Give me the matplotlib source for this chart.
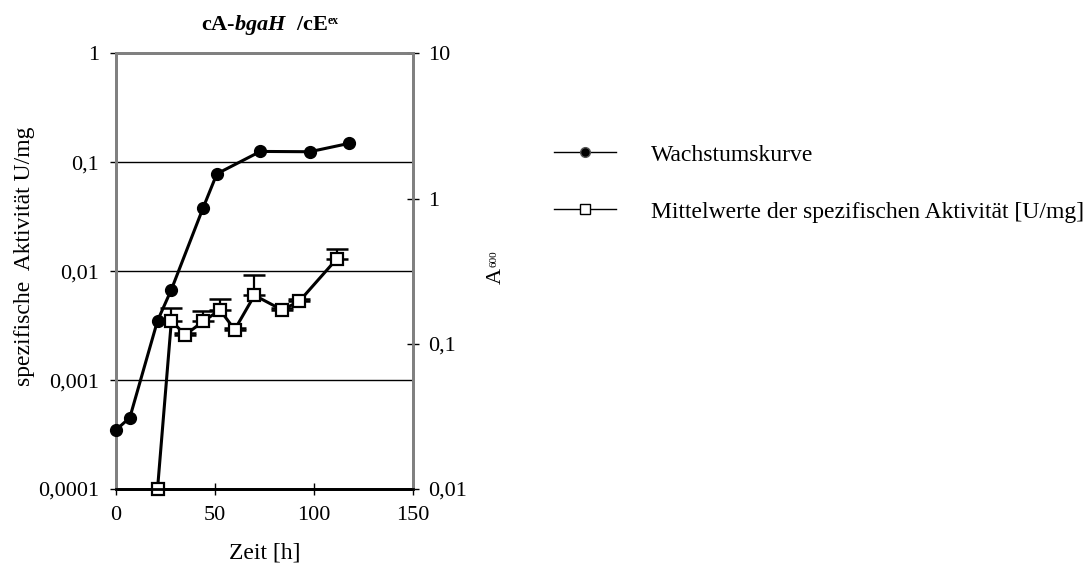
import numpy as np
import matplotlib
matplotlib.use("Agg")
import matplotlib.pyplot as plt
from matplotlib.lines import Line2D
from matplotlib.ticker import FixedLocator, FixedFormatter, NullLocator

plt.rcParams['font.family'] = ['Liberation Serif', 'DejaVu Serif']
plt.rcParams['mathtext.fontset'] = 'custom'
plt.rcParams['mathtext.rm'] = 'Liberation Serif'
plt.rcParams['mathtext.it'] = 'Liberation Serif:italic:bold'
plt.rcParams['mathtext.bf'] = 'Liberation Serif:bold'

# Wachstumskurve (A600, rechte Achse)
t_growth = [0, 7, 21, 28, 44, 51, 73, 98, 118]
a600 = [0.0255, 0.031, 0.144, 0.236, 0.86, 1.48, 2.11, 2.1, 2.4]

# spezifische Aktivitaet (linke Achse)
t_act = [21, 28, 35, 44, 52.6, 60, 70, 84, 92.7, 111.5]
activity = [0.0001, 0.0035, 0.0026, 0.00345, 0.0044, 0.0029, 0.006, 0.0044, 0.0053, 0.0129]
act_err = [0.0, 0.0011, 0.0001, 0.00085, 0.0011, 0.0001, 0.0033, 0.0002, 0.0002, 0.0032]

left_ticks = [0.0001, 0.001, 0.01, 0.1, 1]
left_labels = ['0,0001', '0,001', '0,01', '0,1', '1']
right_ticks = [0.01, 0.1, 1, 10]
right_labels = ['0,01', '0,1', '1', '10']
x_ticks = [0, 50, 100, 150]

fig = plt.figure(figsize=(10.89, 5.64), dpi=100)
ax = fig.add_axes([0.1065, 0.133, 0.2725, 0.7725])
ax2 = ax.twinx()

grey = '#808080'

# Aktivitaet
ax.errorbar(t_act, activity, yerr=[np.zeros(len(act_err)), act_err],
            fmt='none', ecolor='black', elinewidth=1.6, capsize=8, capthick=1.8,
            zorder=3, clip_on=False)
ax.plot(t_act, activity, color='black', lw=2.2, marker='s', markersize=8,
        markerfacecolor='white', markeredgecolor='black', markeredgewidth=1.6,
        zorder=4, clip_on=False)

# Wachstum
ax2.plot(t_growth, a600, color='black', lw=2.2, marker='o', markersize=8.5,
         markerfacecolor='black', markeredgecolor='black', zorder=5, clip_on=False)

ax.set_yscale('log')
ax.set_ylim(0.0001, 1)
ax.set_xlim(0, 150)
ax.yaxis.set_major_locator(FixedLocator(left_ticks))
ax.yaxis.set_major_formatter(FixedFormatter(left_labels))
ax.yaxis.set_minor_locator(NullLocator())
ax.set_xticks(x_ticks)
ax.set_xticklabels([str(v) for v in x_ticks])
ax.grid(True, axis='y', color='black', lw=1.0)
ax.set_axisbelow(True)

ax2.set_yscale('log')
ax2.set_ylim(0.01, 10)
ax2.yaxis.set_major_locator(FixedLocator(right_ticks))
ax2.yaxis.set_major_formatter(FixedFormatter(right_labels))
ax2.yaxis.set_minor_locator(NullLocator())

for a in (ax, ax2):
    for s in a.spines.values():
        s.set_color(grey)
        s.set_linewidth(2)
ax.spines['bottom'].set_color('black')
ax2.spines['bottom'].set_color('black')

ax.tick_params(axis='y', direction='out', length=4, width=1, labelsize=16, pad=8)
ax.tick_params(axis='x', direction='inout', length=8, width=1, labelsize=16, pad=8)
ax2.tick_params(axis='y', direction='inout', length=8, width=1, labelsize=16, pad=7)

ax.set_xlabel('Zeit [h]', fontsize=17, labelpad=13)
ax.set_ylabel('spezifische  Aktivität U/mg', fontsize=17, labelpad=2, y=0.535)

# rechte Achsenbeschriftung: A mit kleinem 600
ylab2 = ax2.set_ylabel('A', fontsize=16, labelpad=14, y=0.49)
ax2.annotate('600', xy=(0.4, 1.0), xycoords=ylab2, rotation=90,
             ha='center', va='bottom', fontsize=8, annotation_clip=False)

title = ax.set_title('cA-' + r'$bgaH$' + '  /cE', fontsize=16,
                     fontweight='bold', pad=17)
ax.annotate('ex', xy=(1.0, 0.9), xycoords=title, ha='left', va='top',
            fontsize=8.5, fontweight='bold', annotation_clip=False)

handles = [
    Line2D([], [], color='black', lw=1, marker='o', markersize=7,
           markerfacecolor='black', markeredgecolor='#555555'),
    Line2D([], [], color='black', lw=1, marker='s', markersize=7,
           markerfacecolor='white', markeredgecolor='black'),
]
labels = ['Wachstumskurve', 'Mittelwerte der spezifischen Aktivität [U/mg]']
fig.legend(handles, labels, loc='center left', bbox_to_anchor=(0.509, 0.675),
           frameon=False, fontsize=17, handlelength=2.6, handletextpad=1.5,
           labelspacing=1.5, borderpad=0, borderaxespad=0)

fig.savefig('out.png', dpi=100)
